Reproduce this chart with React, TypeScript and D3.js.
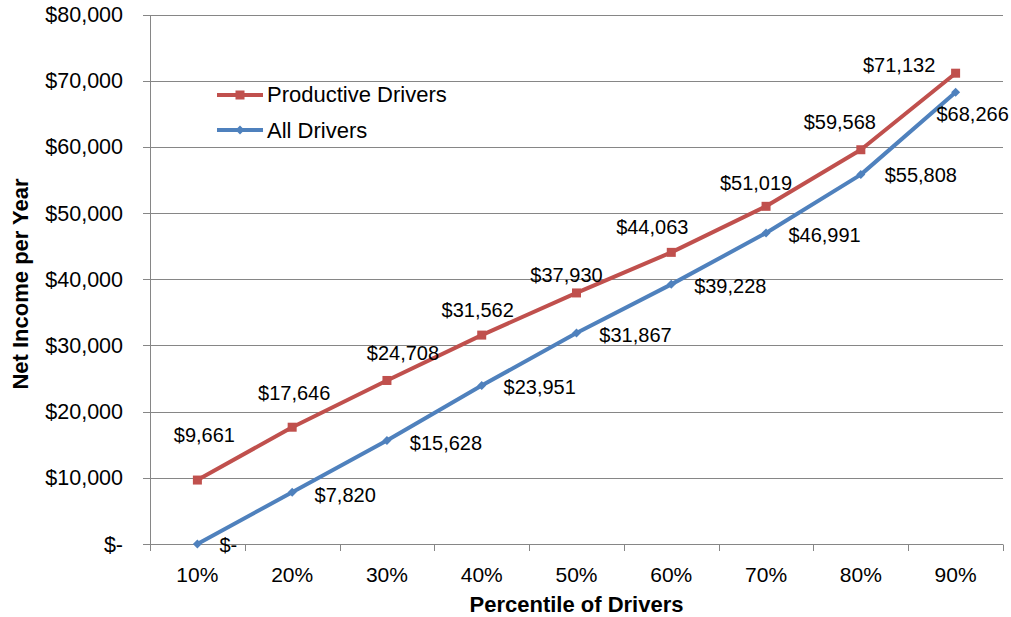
import * as d3 from 'd3';

const categories = ['10%', '20%', '30%', '40%', '50%', '60%', '70%', '80%', '90%'];
const productiveDrivers = [9661, 17646, 24708, 31562, 37930, 44063, 51019, 59568, 71132];
const allDrivers = [0, 7820, 15628, 23951, 31867, 39228, 46991, 55808, 68266];
const yTicks = [0, 10000, 20000, 30000, 40000, 50000, 60000, 70000, 80000];

// label nudges (dx from point centre, baseline dy from point), as placed in the original
const productiveLabelOffsets = [[7, -38], [2, -27], [16, -20], [-4, -18.5], [-10, -11], [-19, -18], [-10, -16], [-21, -20.5], [-56.5, -1.5]];
const allLabelOffsets = [[31, 8], [53, 9.5], [59, 9.5], [58, 8.5], [59, 8.7], [59, 9], [58.5, 8.7], [60, 7.7], [17, 28.5]];

const RED = '#C0504D';
const BLUE = '#4F81BD';
const GRID = '#868686';
const FONT = "'Liberation Sans', Arial, sans-serif";

const W = 1011;
const H = 617;
const left = 150;
const right = 1003;
const top = 14.5;
const bottom = 544;

const fmt = (v: number) => (v === 0 ? '$-' : '$' + d3.format(',')(v));

export default function App() {
  const x = d3.scaleBand().domain(categories).range([left, right]);
  const y = d3.scaleLinear().domain([0, 80000]).range([bottom, top]);
  const cx = (c: string) => (x(c) as number) + x.bandwidth() / 2;
  const snap = (v: number) => Math.round(v) + 0.5;

  const line = d3.line<number>()
    .x((_, i) => cx(categories[i]))
    .y(d => y(d));

  const boundaries = [...categories.map(c => x(c) as number), right];

  return (
    <div style={{ position: 'absolute', left: 0, top: 0 }}>
      <svg width={W} height={H} style={{ display: 'block', background: '#fff' }} fontFamily={FONT}>
        {/* gridlines */}
        {yTicks.map(t => (
          <line key={t} x1={left} x2={right} y1={snap(y(t))} y2={snap(y(t))} stroke={GRID} strokeWidth={1} />
        ))}
        {/* y ticks */}
        {yTicks.map(t => (
          <line key={'yt' + t} x1={143} x2={left} y1={snap(y(t))} y2={snap(y(t))} stroke={GRID} strokeWidth={1} />
        ))}
        {/* axes */}
        <line x1={snap(left)} x2={snap(left)} y1={snap(top)} y2={snap(bottom)} stroke={GRID} strokeWidth={1} />
        {boundaries.map((b, i) => (
          <line key={'xt' + i} x1={snap(b)} x2={snap(b)} y1={snap(bottom)} y2={551} stroke={GRID} strokeWidth={1} />
        ))}

        {/* y tick labels */}
        {yTicks.map(t => (
          <text key={'yl' + t} x={123} y={y(t)} dy="0.35em" textAnchor="end" fontSize={21.5} fill="#000">
            {fmt(t)}
          </text>
        ))}
        {/* x tick labels */}
        {categories.map(c => (
          <text key={'xl' + c} x={cx(c)} y={581.5} textAnchor="middle" fontSize={21} fill="#000">
            {c}
          </text>
        ))}

        {/* axis titles */}
        <text x={(left + right) / 2} y={612} textAnchor="middle" fontSize={22} fontWeight="bold" fill="#000">
          Percentile of Drivers
        </text>
        <text transform="translate(28,284) rotate(-90)" textAnchor="middle" fontSize={22} fontWeight="bold" fill="#000">
          Net Income per Year
        </text>

        {/* series */}
        <path d={line(allDrivers) || ''} fill="none" stroke={BLUE} strokeWidth={4} strokeLinejoin="round" />
        <path d={line(productiveDrivers) || ''} fill="none" stroke={RED} strokeWidth={4} strokeLinejoin="round" />

        {allDrivers.map((v, i) => {
          const px = cx(categories[i]);
          const py = y(v);
          return (
            <path key={'bm' + i} d={`M${px},${py - 4.5}L${px + 4.5},${py}L${px},${py + 4.5}L${px - 4.5},${py}Z`} fill={BLUE} />
          );
        })}
        {productiveDrivers.map((v, i) => {
          const px = cx(categories[i]);
          const py = y(v);
          return <rect key={'rm' + i} x={px - 4.5} y={py - 4.5} width={9} height={9} fill={RED} />;
        })}

        {/* data labels */}
        {productiveDrivers.map((v, i) => (
          <text key={'pl' + i} x={cx(categories[i]) + productiveLabelOffsets[i][0]} y={y(v) + productiveLabelOffsets[i][1]}
            textAnchor="middle" fontSize={20} fill="#000">
            {fmt(v)}
          </text>
        ))}
        {allDrivers.map((v, i) => (
          <text key={'al' + i} x={cx(categories[i]) + allLabelOffsets[i][0]} y={y(v) + allLabelOffsets[i][1]}
            textAnchor="middle" fontSize={20} fill="#000">
            {fmt(v)}
          </text>
        ))}

        {/* legend */}
        <line x1={217} x2={263} y1={95} y2={95} stroke={RED} strokeWidth={4} />
        <rect x={235.5} y={90.5} width={9} height={9} fill={RED} />
        <text x={267} y={102} fontSize={22} fill="#000">Productive Drivers</text>
        <line x1={217} x2={263} y1={130} y2={130} stroke={BLUE} strokeWidth={4} />
        <path d="M240,125.5L244.5,130L240,134.5L235.5,130Z" fill={BLUE} />
        <text x={267} y={137.5} fontSize={22} fill="#000">All Drivers</text>
      </svg>
    </div>
  );
}
